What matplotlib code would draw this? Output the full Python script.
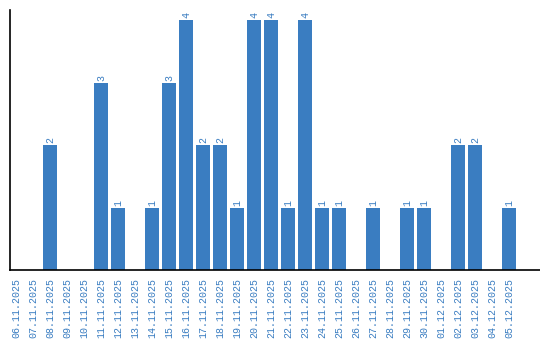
import matplotlib
matplotlib.use("Agg")
import matplotlib.pyplot as plt

# ── Data ──────────────────────────────────────────────────────────────────
dates = [
    "06.11.2025", "07.11.2025", "08.11.2025", "09.11.2025", "10.11.2025",
    "11.11.2025", "12.11.2025", "13.11.2025", "14.11.2025", "15.11.2025",
    "16.11.2025", "17.11.2025", "18.11.2025", "19.11.2025", "20.11.2025",
    "21.11.2025", "22.11.2025", "23.11.2025", "24.11.2025", "25.11.2025",
    "26.11.2025", "27.11.2025", "28.11.2025", "29.11.2025", "30.11.2025",
    "01.12.2025", "02.12.2025", "03.12.2025", "04.12.2025", "05.12.2025",
]
counts = [0, 0, 2, 0, 0, 3, 1, 0, 1, 3,
          4, 2, 2, 1, 4, 4, 1, 4, 1, 1,
          0, 1, 0, 1, 1, 0, 2, 2, 0, 1]

BLUE = "#3a7dc1"
FONT = "Liberation Mono"

fig = plt.figure(figsize=(5.4, 3.4), dpi=100)
ax = fig.add_axes([10 / 540, 70 / 340, 530 / 540, 260 / 340])

x = list(range(len(dates)))
ax.bar(x, counts, width=0.82, color=BLUE)

# value labels above non-zero bars
for xi, c in zip(x, counts):
    if c:
        ax.text(xi, c + 0.03, str(c), rotation=90, ha="center", va="bottom",
                color=BLUE, fontsize=7.2, family=FONT)

ax.set_xlim(-0.35, 30.8)
ax.set_ylim(0, 4.16)
ax.set_xticks(x)
ax.set_xticklabels(dates, rotation=90, color=BLUE, fontsize=7.2, family=FONT)
ax.tick_params(axis="x", length=0, pad=6)
ax.set_yticks([])

for side in ("top", "right"):
    ax.spines[side].set_visible(False)
for side in ("left", "bottom"):
    ax.spines[side].set_linewidth(1.2)
    ax.spines[side].set_color("black")

fig.savefig("out.png", dpi=100)
